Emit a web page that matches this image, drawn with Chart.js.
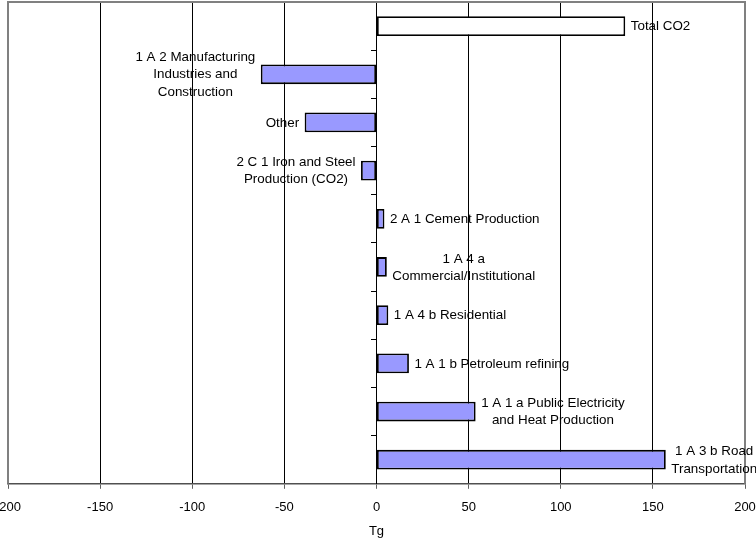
<!DOCTYPE html>
<html>
<head>
<meta charset="utf-8">
<script src="https://cdn.jsdelivr.net/npm/chart.js@4"></script>
<style>
html,body{margin:0;padding:0;background:#fff;}
#wrap{width:756px;height:539px;position:relative;}
</style>
</head>
<body>
<div id="wrap"><canvas id="c" width="756" height="539"></canvas></div>
<script>
const categories = [
  "Total CO2",
  "1 A 2 Manufacturing Industries and Construction",
  "Other",
  "2 C 1 Iron and Steel Production (CO2)",
  "2 A 1 Cement Production",
  "1 A 4 a Commercial/Institutional",
  "1 A 4 b Residential",
  "1 A 1 b Petroleum refining",
  "1 A 1 a Public Electricity and Heat Production",
  "1 A 3 b Road Transportation"
];
const labelLines = [
  ["Total CO2"],
  ["1 A 2 Manufacturing", "Industries and", "Construction"],
  ["Other"],
  ["2 C 1 Iron and Steel", "Production (CO2)"],
  ["2 A 1 Cement Production"],
  ["1 A 4 a", "Commercial/Institutional"],
  ["1 A 4 b Residential"],
  ["1 A 1 b Petroleum refining"],
  ["1 A 1 a Public Electricity", "and Heat Production"],
  ["1 A 3 b Road", "Transportation"]
];
const values = [135.0, -62.8, -39.0, -8.4, 4.3, 5.6, 6.4, 17.6, 53.8, 157.0];
const xTicks = [-200, -150, -100, -50, 0, 50, 100, 150, 200];
const axisTitle = "Tg";

const FONT = "'Liberation Sans', Arial, Helvetica, sans-serif";

const framePlugin = {
  id: 'frame',
  beforeDatasetsDraw(chart) {
    const a = chart.chartArea, ctx = chart.ctx;
    ctx.save();
    ctx.strokeStyle = '#808080';
    ctx.lineWidth = 2;
    ctx.beginPath();
    ctx.moveTo(a.left, a.bottom);
    ctx.lineTo(a.left, a.top);
    ctx.lineTo(a.right, a.top);
    ctx.lineTo(a.right, a.bottom);
    ctx.stroke();
    ctx.restore();
  }
};

const labelPlugin = {
  id: 'barLabels',
  afterDatasetsDraw(chart) {
    const ctx = chart.ctx;
    const meta = chart.getDatasetMeta(0);
    ctx.save();
    ctx.font = '13.4px ' + FONT;
    ctx.fillStyle = '#000';
    ctx.textBaseline = 'middle';
    ctx.textAlign = 'center';
    const lh = 17.3;
    meta.data.forEach((bar, i) => {
      const lines = labelLines[i];
      const w = Math.max(...lines.map(l => ctx.measureText(l).width));
      const v = values[i];
      const cx = v >= 0 ? bar.x + 5.5 + w / 2 : bar.x - 5.5 - w / 2;
      const y0 = bar.y - (lines.length - 1) * lh / 2;
      lines.forEach((l, k) => ctx.fillText(l, cx, y0 + k * lh + 0.5));
    });
    ctx.restore();
  }
};

new Chart(document.getElementById('c'), {
  type: 'bar',
  data: {
    labels: categories,
    datasets: [{
      data: values,
      backgroundColor: values.map((v, i) => i === 0 ? '#FFFFFF' : '#9999FF'),
      borderColor: '#000000',
      borderWidth: 1.8,
      borderSkipped: false,
      categoryPercentage: 1,
      barPercentage: 0.41
    }]
  },
  options: {
    indexAxis: 'y',
    responsive: false,
    animation: false,
    devicePixelRatio: 1,
    layout: { padding: { left: 8, right: 11, top: 2, bottom: 0 } },
    plugins: { legend: { display: false }, tooltip: { enabled: false } },
    scales: {
      x: {
        type: 'linear',
        min: -200,
        max: 200,
        afterBuildTicks(scale) { scale.ticks = xTicks.map(v => ({ value: v })); },
        afterFit(scale) { scale.paddingLeft = 0; scale.paddingRight = 0; },
        grid: {
          color: ctx => (ctx.tick && Math.abs(ctx.tick.value) === 200) ? 'rgba(0,0,0,0)' : '#000000',
          lineWidth: 1,
          drawTicks: true,
          tickLength: 5,
          tickColor: '#606060'
        },
        border: { display: true, color: '#505050', width: 1.5 },
        ticks: {
          color: '#000',
          font: { family: FONT, size: 13 },
          padding: 11,
          maxRotation: 0,
          autoSkip: false
        },
        title: {
          display: true,
          text: axisTitle,
          color: '#000',
          font: { family: FONT, size: 13 },
          padding: { top: -3, bottom: 0 }
        }
      },
      y: {
        type: 'category',
        position: { x: 0 },
        grid: {
          drawOnChartArea: false,
          drawTicks: true,
          tickLength: 5,
          tickColor: '#000',
          offset: true
        },
        border: { display: true, color: '#000', width: 1 },
        ticks: { display: false }
      }
    }
  },
  plugins: [framePlugin, labelPlugin]
});
</script>
</body>
</html>
